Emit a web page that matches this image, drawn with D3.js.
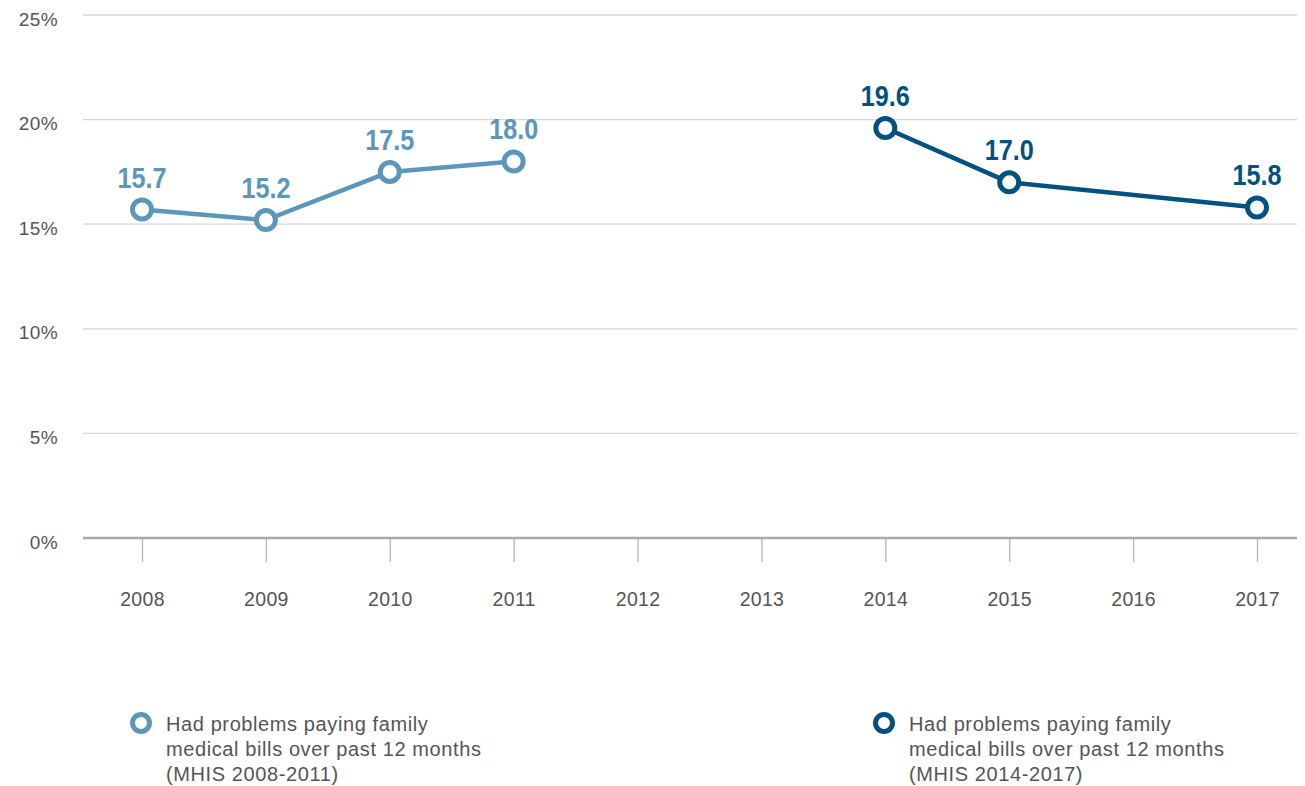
<!DOCTYPE html>
<html>
<head>
<meta charset="utf-8">
<script src="https://cdn.jsdelivr.net/npm/d3@7"></script>
<style>
  html, body { margin: 0; padding: 0; background: #fff; }
  svg { display: block; }
</style>
</head>
<body>
<svg id="chart" width="1305" height="786"></svg>
<script>
// Years on the category axis
const years = ["2008", "2009", "2010", "2011", "2012", "2013", "2014", "2015", "2016", "2017"];

// Share of people who had problems paying family medical bills (%)
const earlyYears = ["2008", "2009", "2010", "2011"];
const earlyValues = [15.7, 15.2, 17.5, 18.0];
const lateYears = ["2014", "2015", "2017"];
const lateValues = [19.6, 17.0, 15.8];

const yTicks = [0, 5, 10, 15, 20, 25];

const legendLines = [
  ["Had problems paying family", "medical bills over past 12 months", "(MHIS 2008-2011)"],
  ["Had problems paying family", "medical bills over past 12 months", "(MHIS 2014-2017)"]
];

const colorEarly = "#5b96bb";
const colorLate = "#03517e";
const textGrey = "#555";
const bodyFont = "Liberation Sans, Arial, sans-serif";

const svg = d3.select("#chart");
const plotLeft = 83, plotRight = 1297, plotTop = 15, plotBottom = 538;

const x = d3.scalePoint().domain(years).range([142, 1257]);
const y = d3.scaleLinear().domain([0, 25]).range([plotBottom, plotTop]);

// Horizontal gridlines
svg.append("g")
  .selectAll("line")
  .data(yTicks.filter(d => d > 0))
  .join("line")
  .attr("x1", plotLeft).attr("x2", plotRight)
  .attr("y1", d => y(d)).attr("y2", d => y(d))
  .attr("stroke", "#d6d6d6").attr("stroke-width", 1.3);

// Y tick labels
svg.append("g")
  .selectAll("text")
  .data(yTicks)
  .join("text")
  .attr("x", 58).attr("y", d => y(d) + 10.5)
  .attr("text-anchor", "end")
  .attr("font-family", bodyFont)
  .attr("font-size", 19)
  .attr("letter-spacing", 0.4)
  .attr("fill", textGrey)
  .text(d => d + "%");

// X axis
const xAxis = d3.axisBottom(x).tickSize(24).tickPadding(30);
const gx = svg.append("g").attr("transform", `translate(0,${plotBottom})`).call(xAxis);
gx.select(".domain").remove();
gx.selectAll(".tick line").attr("stroke", "#b5b5b5").attr("stroke-width", 1.3);
gx.selectAll(".tick text")
  .attr("font-family", bodyFont)
  .attr("font-size", 19.5)
  .attr("letter-spacing", 0.3)
  .attr("fill", textGrey);
svg.append("line")
  .attr("x1", plotLeft).attr("x2", plotRight)
  .attr("y1", plotBottom).attr("y2", plotBottom)
  .attr("stroke", "#a9a9a9").attr("stroke-width", 2.5);

function drawSeries(ys, vs, color) {
  const data = ys.map((yr, i) => ({ yr, v: vs[i] }));
  const line = d3.line().x(d => x(d.yr)).y(d => y(d.v));
  const g = svg.append("g");
  g.append("path")
    .datum(data)
    .attr("d", line)
    .attr("fill", "none")
    .attr("stroke", color)
    .attr("stroke-width", 4.5)
    .attr("stroke-linejoin", "round");
  g.selectAll("circle")
    .data(data)
    .join("circle")
    .attr("cx", d => x(d.yr)).attr("cy", d => y(d.v))
    .attr("r", 9.5)
    .attr("fill", "#fff")
    .attr("stroke", color)
    .attr("stroke-width", 5);
  // Value labels in a condensed bold face
  g.selectAll("text")
    .data(data)
    .join("text")
    .attr("transform", d => `translate(${x(d.yr)},${y(d.v) - 22}) scale(0.84,1)`)
    .attr("text-anchor", "middle")
    .attr("font-family", bodyFont)
    .attr("font-weight", "bold")
    .attr("font-size", 30)
    .attr("fill", color)
    .text(d => d.v.toFixed(1));
}

drawSeries(earlyYears, earlyValues, colorEarly);
drawSeries(lateYears, lateValues, colorLate);

// Legend
const legendItems = [
  { cx: 141, color: colorEarly, lines: legendLines[0] },
  { cx: 884, color: colorLate, lines: legendLines[1] }
];
legendItems.forEach(item => {
  const g = svg.append("g");
  g.append("circle")
    .attr("cx", item.cx).attr("cy", 723)
    .attr("r", 8.5)
    .attr("fill", "#fff")
    .attr("stroke", item.color)
    .attr("stroke-width", 5);
  g.selectAll("text")
    .data(item.lines)
    .join("text")
    .attr("x", item.cx + 25)
    .attr("y", (d, i) => 731 + i * 25)
    .attr("font-family", bodyFont)
    .attr("font-size", 20)
    .attr("letter-spacing", 0.6)
    .attr("fill", textGrey)
    .text(d => d);
});
</script>
</body>
</html>
